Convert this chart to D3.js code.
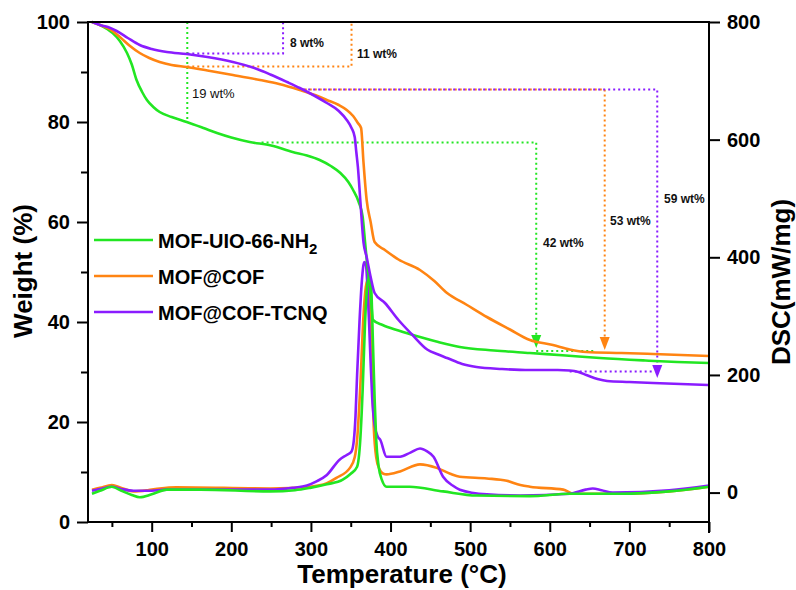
<!DOCTYPE html>
<html><head><meta charset="utf-8">
<script src="https://cdn.jsdelivr.net/npm/d3@7"></script>
<style>
html,body{margin:0;padding:0;background:#fff;}
svg{display:block;font-family:Arial,"Liberation Sans",Helvetica,sans-serif;}
</style></head>
<body><svg id="chart" width="796" height="590"></svg>
<script>
// ---------- data ----------
const seriesNames = ["MOF-UIO-66-NH2", "MOF@COF", "MOF@COF-TCNQ"];
const seriesColors = ["#22e622", "#ff8412", "#8a1cff"];

// TGA: [temperature °C, weight %]
const tgaGreen = [[25,100],[35,99.4],[45,98.5],[51,97.8],[60,96.2],[69,93.8],[75,91.5],[81,88.4],[88,86],[94,84.4],[102,83],[110,82],[125,81],[144,80],[165,78.8],[182,77.8],[200,76.9],[223,76],[250,75.3],[277,74],[295,73.3],[311,72.4],[325,71.2],[337,69.8],[347,68],[353,66.4],[360,64],[365,61],[368,56],[371,51],[374,47.8],[378,40.4],[390,39.4],[410,38.3],[437,37],[460,36],[487,35],[530,34.3],[575,33.8],[620,33.3],[663,32.8],[720,32.3],[760,32],[800,31.8]];
const tgaOrange = [[25,100],[35,99.4],[48,98.5],[60,97],[72,95.3],[85,93.8],[97,92.8],[110,92],[125,91.4],[144,91],[170,90.3],[202,89.4],[236,88.4],[260,87.6],[286,86.4],[305,85.4],[320,84.4],[335,83.4],[345,82.4],[353,81.2],[359,79.8],[363,78.8],[366,72],[370,64.4],[375,60],[380,56],[393,54.4],[410,52.5],[437,50.4],[455,48.2],[471,45.8],[495,43.5],[521,41],[550,38.5],[575,36.4],[604,35.4],[625,34.5],[646,34],[690,33.8],[730,33.6],[800,33.2]];
const tgaPurple = [[25,100],[35,99.4],[45,99],[56,98.2],[70,96.8],[85,95.4],[100,94.6],[119,94],[144,93.6],[170,93],[202,92],[225,91],[249,89.5],[270,88],[286,86.8],[305,85.2],[320,83.8],[335,82.2],[345,80.4],[351,78.8],[355,77],[357,74],[359,71],[362,64.4],[366,56],[370,53],[375,49],[380,45.8],[393,43.8],[410,40.4],[427,37.5],[446,34.5],[460,33.5],[471,32.8],[490,31.6],[508,31],[540,30.6],[575,30.4],[610,30.4],[625,30.3],[636,30],[646,29.4],[660,28.6],[672,28.2],[700,28],[730,27.8],[800,27.4]];

// DSC: [temperature °C, mW/mg]
const dscGreen = [[25,-2],[35,3],[50,10],[62,3],[75,-4],[85,-8],[100,-3],[119,5],[161,5],[249,2],[280,4],[299,8],[320,14],[340,22],[350,32],[358,44],[362,90],[365,175],[368,290],[371,355],[374,370],[376,340],[378,250],[380,160],[382,90],[385,45],[389,22],[395,10],[424,10],[466,2],[508,-5],[575,-6],[625,-2],[688,-2],[750,2],[800,10]];
const dscOrange = [[25,5],[35,8],[50,13],[62,8],[77,2],[95,4],[110,7],[131,9],[249,7],[299,10],[320,16],[332,25],[349,42],[355,60],[358,90],[362,180],[366,300],[369,350],[371,360],[373,345],[375,280],[377,190],[379,110],[382,60],[386,40],[391,32],[395,31],[412,36],[437,48],[458,42],[475,32],[487,27],[521,24],[546,20],[563,13],[575,10],[617,5],[630,-2],[688,-2],[750,2],[800,10]];
const dscPurple = [[25,3],[35,6],[50,10],[62,6],[77,3],[95,3],[119,5],[249,5],[277,8],[295,12],[307,19],[320,30],[336,56],[345,64],[351,70],[354,90],[356,130],[358,200],[361,290],[364,360],[367,392],[369,388],[371,350],[373,290],[375,220],[377,160],[380,115],[384,95],[387,90],[395,61],[412,61],[425,68],[437,75],[446,70],[454,61],[466,27],[478,12],[487,5],[521,-3],[563,-5],[625,-2],[645,5],[654,7],[665,4],[679,0],[750,4],[800,12]];

const xTicks = [100,200,300,400,500,600,700,800];
const xMinor = [50,150,250,350,450,550,650,750];
const yTicks = [0,20,40,60,80,100];
const yMinor = [10,30,50,70,90];
const y2Ticks = [0,200,400,600,800];

// weight-loss annotations (data space: temperature, weight %)
const guideLines = [
  {s:0, pts:[[144.7,100],[144.7,80]]},
  {s:0, pts:[[238,75.9],[583,75.9],[583,37.4]], arrow:[583,34.8]},
  {s:0, pts:[[583,34.2],[655,34.2]]},
  {s:1, pts:[[144.7,91.1],[351,91.1],[351,100]]},
  {s:1, pts:[[286,86.5],[669,86.5],[669,37]], arrow:[669,34.4]},
  {s:2, pts:[[144.7,93.7],[265,93.7],[265,100]]},
  {s:2, pts:[[284,86.5],[735,86.5],[735,31.4]], arrow:[735,28.8]},
  {s:2, pts:[[625,30.1],[728,30.1]]}
];
const lossLabels = [
  {text:"19 wt%", t:150.6, w:84.8, bold:false},
  {text:"8 wt%", t:273.7, w:95, bold:true},
  {text:"11 wt%", t:357.9, w:92.8, bold:true},
  {text:"42 wt%", t:591.5, w:55, bold:true},
  {text:"53 wt%", t:675.6, w:59.4, bold:true},
  {text:"59 wt%", t:743.5, w:63.8, bold:true}
];

// ---------- drawing ----------
const svg = d3.select("#chart");
svg.append("rect").attr("width",796).attr("height",590).attr("fill","#fff");
const L = 88, R = 709, T = 22, B = 522;
const x = d3.scaleLinear().domain([20,800]).range([L,R]);
const y = d3.scaleLinear().domain([0,100]).range([B,T]);
const y2 = d3.scaleLinear().domain([-50,800]).range([B,T]);

const tga = [tgaGreen, tgaOrange, tgaPurple];
const dsc = [dscGreen, dscOrange, dscPurple];

const lineT = d3.line().x(d=>x(d[0])).y(d=>y(d[1])).curve(d3.curveMonotoneX);
const lineD = d3.line().x(d=>x(d[0])).y(d=>y2(d[1])).curve(d3.curveMonotoneX);

const plot = svg.append("g");
// guides (dotted)
const guideLine = d3.line().x(d=>x(d[0])).y(d=>y(d[1]));
guideLines.forEach(g=>{
  plot.append("path").attr("d",guideLine(g.pts)).attr("fill","none")
    .attr("stroke",seriesColors[g.s]).attr("stroke-width",2).attr("stroke-dasharray","2,3");
  if(g.arrow){
    const ax = x(g.arrow[0]), ay = y(g.arrow[1]);
    plot.append("path").attr("d",`M${ax-5},${ay-13}L${ax+5},${ay-13}L${ax},${ay}Z`)
      .attr("fill",seriesColors[g.s]);
  }
});

// DSC curves
[1,2,0].forEach(i=>{
  plot.append("path").attr("d",lineD(dsc[i])).attr("fill","none")
    .attr("stroke",seriesColors[i]).attr("stroke-width",2.6).attr("stroke-linejoin","round");
});
// TGA curves
[0,1,2].forEach(i=>{
  plot.append("path").attr("d",lineT(tga[i])).attr("fill","none")
    .attr("stroke",seriesColors[i]).attr("stroke-width",2.6).attr("stroke-linejoin","round");
});

// loss labels
lossLabels.forEach(l=>{
  svg.append("text").attr("x",x(l.t)).attr("y",y(l.w)).text(l.text)
    .attr("font-size",l.bold?12:13).attr("font-weight",l.bold?"bold":"normal").attr("fill","#111");
});

// axes
const ax = svg.append("g").attr("stroke","#000").attr("stroke-width",2);
ax.append("line").attr("x1",L).attr("x2",R).attr("y1",T).attr("y2",T);
ax.append("line").attr("x1",L).attr("x2",R).attr("y1",B).attr("y2",B);
ax.append("line").attr("x1",L).attr("x2",L).attr("y1",T-1).attr("y2",B+1);
ax.append("line").attr("x1",R).attr("x2",R).attr("y1",T-1).attr("y2",B+11);

const xAxis = d3.axisBottom(x).tickValues(xTicks).tickSize(10).tickPadding(10).tickFormat(d3.format("d"));
const gx = svg.append("g").attr("transform",`translate(0,${B})`).call(xAxis);
const xAxisMinor = d3.axisBottom(x).tickValues(xMinor).tickSize(5).tickFormat("");
const gxm = svg.append("g").attr("transform",`translate(0,${B})`).call(xAxisMinor);

const yAxis = d3.axisLeft(y).tickValues(yTicks).tickSize(11).tickPadding(7).tickFormat(d3.format("d"));
const gy = svg.append("g").attr("transform",`translate(${L},0)`).call(yAxis);
const yAxisMinor = d3.axisLeft(y).tickValues(yMinor).tickSize(7).tickFormat("");
const gym = svg.append("g").attr("transform",`translate(${L},0)`).call(yAxisMinor);

const y2Axis = d3.axisRight(y2).tickValues(y2Ticks).tickSize(11).tickPadding(7).tickFormat(d3.format("d"));
const gy2 = svg.append("g").attr("transform",`translate(${R},0)`).call(y2Axis);

[gx,gxm,gy,gym,gy2].forEach(g=>{
  g.select(".domain").remove();
  g.selectAll(".tick line").attr("stroke","#000").attr("stroke-width",2);
  g.selectAll(".tick text").attr("fill","#000").attr("font-size",20).attr("font-weight","bold")
    .attr("font-family","Arial, 'Liberation Sans', sans-serif");
});

// axis titles
svg.append("text").attr("x",402).attr("y",583).attr("text-anchor","middle")
  .attr("font-size",26).attr("font-weight","bold").text("Temperature (°C)");
svg.append("text").attr("transform","translate(32,271) rotate(-90)").attr("text-anchor","middle")
  .attr("font-size",26).attr("font-weight","bold").text("Weight (%)");
svg.append("text").attr("transform","translate(790,282) rotate(-90)").attr("text-anchor","middle")
  .attr("font-size",26).attr("font-weight","bold").text("DSC(mW/mg)");

// legend
const legY = [240,276,312];
seriesNames.forEach((n,i)=>{
  svg.append("line").attr("x1",94).attr("x2",153).attr("y1",legY[i]).attr("y2",legY[i])
    .attr("stroke",seriesColors[i]).attr("stroke-width",2.6);
  const t = svg.append("text").attr("x",158).attr("y",legY[i]+8)
    .attr("font-size",20).attr("font-weight","bold").attr("fill","#000");
  if(n.endsWith("NH2")){
    t.append("tspan").text(n.slice(0,-1));
    t.append("tspan").attr("dy",6).attr("font-size",15).text("2");
  } else t.text(n);
});
</script></body></html>
